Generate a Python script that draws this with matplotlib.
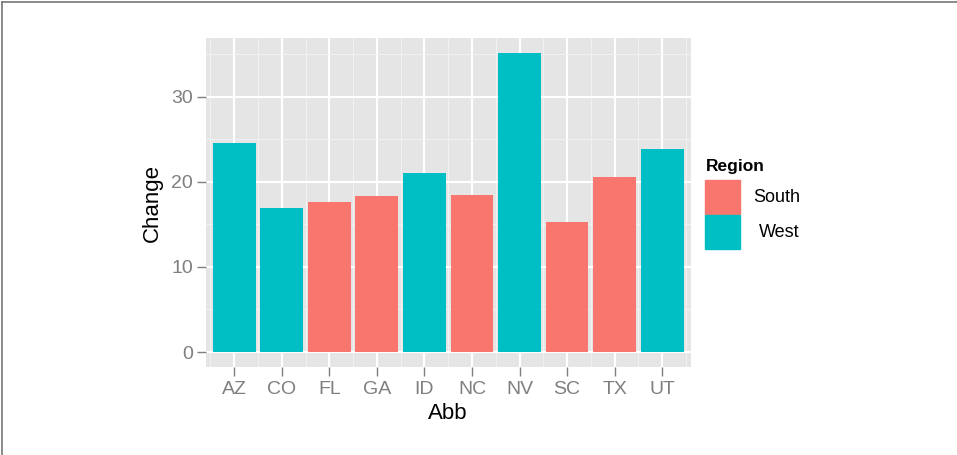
import matplotlib
matplotlib.use("Agg")
import matplotlib.pyplot as plt
from matplotlib.patches import Rectangle
from matplotlib.lines import Line2D

# data
abb = ["AZ", "CO", "FL", "GA", "ID", "NC", "NV", "SC", "TX", "UT"]
change = [24.5, 16.9, 17.6, 18.3, 21.0, 18.5, 35.1, 15.3, 20.6, 23.8]
region = ["West", "West", "South", "South", "West", "South", "West", "South", "South", "West"]
region_levels = ["South", "West"]
y_ticks = [0, 10, 20, 30]

colors = {"South": "#F8766D", "West": "#00BFC4"}
plt.rcParams["font.family"] = ["Liberation Sans", "DejaVu Sans"]

W, H = 957, 455
fig = plt.figure(figsize=(W / 100, H / 100), dpi=100)
ax = fig.add_axes([205.7 / W, 1 - 367 / H, (690.7 - 205.7) / W, (367 - 38.3) / H])

ax.set_facecolor("#E5E5E5")
x = list(range(len(abb)))
ax.bar(x, change, width=0.9, color=[colors[r] for r in region], zorder=3)

# ggplot-like expand
ymax = max(change)
ax.set_ylim(-0.05 * ymax, ymax * 1.05)
ax.set_xlim(-0.6, len(abb) - 0.4)

ax.set_xticks(x)
ax.set_xticklabels(abb)
ax.set_yticks(y_ticks)
ax.set_xticks([i + 0.5 for i in x[:-1]] + [-0.5, len(abb) - 0.5], minor=True)
ax.set_yticks([5, 15, 25, 35], minor=True)

ax.grid(True, which="major", color="white", linewidth=1.6, zorder=1)
ax.grid(True, which="minor", color="#F2F2F2", linewidth=0.7, zorder=1)
ax.set_axisbelow(True)
for s in ax.spines.values():
    s.set_visible(False)

ax.tick_params(which="major", length=6.5, width=1, color="#7F7F7F",
               labelcolor="#7F7F7F", labelsize=14)
ax.tick_params(axis="x", pad=3.5)
ax.tick_params(axis="y", pad=2.5)
ax.tick_params(which="minor", length=0)

ax.set_xlabel("Abb", fontsize=16, labelpad=4)
ax.set_ylabel("Change", fontsize=16, labelpad=6)

# legend drawn by hand
fig.text(706 / W, 1 - 166 / H, "Region", fontsize=12.5, fontweight="bold",
         ha="left", va="center")
key_tops = [180, 215]
for lvl, top in zip(region_levels, key_tops):
    fig.patches.append(Rectangle((705 / W, 1 - (top + 34) / H), 35 / W, 34 / H,
                                 transform=fig.transFigure, color=colors[lvl]))
    fig.text(800 / W, 1 - (top + 18) / H, lvl, fontsize=13,
             ha="right", va="center")

# frame on top and left edges of the image
fig.lines.append(Line2D([2 / W, 2 / W], [0, 1 - 1.5 / H], transform=fig.transFigure,
                        color="#777777", linewidth=1.2))
fig.lines.append(Line2D([2 / W, 1], [1 - 1.5 / H, 1 - 1.5 / H], transform=fig.transFigure,
                        color="#777777", linewidth=1.2))

fig.savefig("out.png", dpi=100)
